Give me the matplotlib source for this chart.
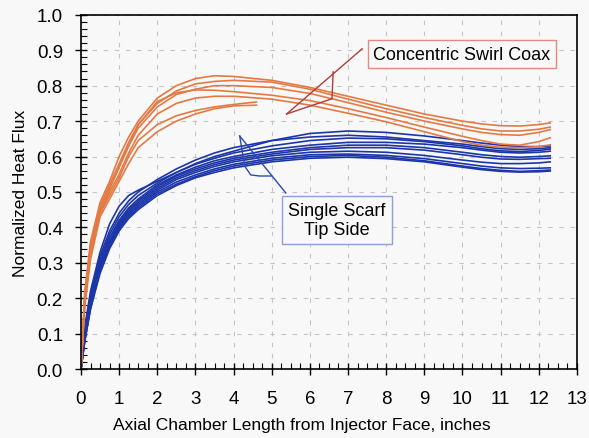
import matplotlib
matplotlib.use('Agg')
import matplotlib.pyplot as plt
from matplotlib.ticker import MultipleLocator, FormatStrFormatter

plt.rcParams['font.family'] = ['Liberation Sans', 'DejaVu Sans']

# axial positions (inches) where curves were read
x = [0, 0.1, 0.25, 0.5, 0.75, 1.0, 1.25, 1.5, 2.0, 2.5, 3.0, 3.5, 4.0,
     5, 6, 7, 8, 9, 10, 10.5, 11, 11.5, 12, 12.3]
x_short = [0, 0.1, 0.25, 0.5, 0.75, 1.0, 1.25, 1.5, 2.0, 2.5, 3.0, 3.5, 4.0, 4.6]

# Concentric swirl coax runs
coax1 = [0, 0.22, 0.36, 0.47, 0.53, 0.60, 0.655, 0.70, 0.765, 0.80, 0.82, 0.828, 0.826,
         0.815, 0.795, 0.77, 0.745, 0.72, 0.70, 0.692, 0.687, 0.686, 0.69, 0.695]
coax2 = [0, 0.21, 0.35, 0.46, 0.52, 0.58, 0.64, 0.69, 0.75, 0.785, 0.805, 0.812, 0.815,
         0.81, 0.79, 0.762, 0.735, 0.71, 0.688, 0.678, 0.672, 0.672, 0.677, 0.683]
coax3 = [0, 0.20, 0.34, 0.45, 0.51, 0.57, 0.63, 0.68, 0.74, 0.775, 0.79, 0.80, 0.80,
         0.795, 0.778, 0.752, 0.725, 0.70, 0.678, 0.668, 0.662, 0.66, 0.668, 0.676]
coax4 = [0, 0.20, 0.33, 0.45, 0.51, 0.57, 0.63, 0.69, 0.755, 0.78, 0.788, 0.787, 0.783,
         0.773, 0.758, 0.735, 0.71, 0.683, 0.657, 0.645, 0.635, 0.632, 0.642, 0.653]
coax5 = [0, 0.19, 0.32, 0.44, 0.50, 0.55, 0.61, 0.66, 0.72, 0.75, 0.765, 0.77, 0.77,
         0.762, 0.745, 0.722, 0.698, 0.67, 0.642, 0.632, 0.626, 0.625, 0.628, 0.633]
coax6 = [0, 0.19, 0.32, 0.44, 0.49, 0.54, 0.60, 0.645, 0.69, 0.715, 0.73, 0.74, 0.747, 0.754]
coax7 = [0, 0.18, 0.31, 0.43, 0.48, 0.53, 0.58, 0.625, 0.67, 0.70, 0.72, 0.735, 0.743, 0.745]

# Single scarf tip side runs
scarf1 = [0, 0.12, 0.22, 0.33, 0.41, 0.46, 0.49, 0.505, 0.53, 0.555, 0.58, 0.60, 0.615,
          0.645, 0.665, 0.672, 0.668, 0.658, 0.645, 0.638, 0.632, 0.628, 0.628, 0.630]
scarf2 = [0, 0.11, 0.21, 0.32, 0.39, 0.44, 0.475, 0.50, 0.535, 0.565, 0.59, 0.61, 0.625,
          0.645, 0.655, 0.66, 0.655, 0.645, 0.635, 0.628, 0.622, 0.62, 0.622, 0.625]
scarf3 = [0, 0.11, 0.21, 0.31, 0.38, 0.43, 0.465, 0.49, 0.525, 0.555, 0.578, 0.595, 0.61,
          0.63, 0.645, 0.652, 0.65, 0.642, 0.63, 0.622, 0.616, 0.614, 0.617, 0.621]
scarf4 = [0, 0.10, 0.20, 0.30, 0.37, 0.42, 0.455, 0.48, 0.52, 0.548, 0.57, 0.588, 0.60,
          0.62, 0.632, 0.64, 0.64, 0.635, 0.625, 0.618, 0.612, 0.61, 0.612, 0.615]
scarf5 = [0, 0.10, 0.20, 0.30, 0.37, 0.415, 0.45, 0.475, 0.515, 0.545, 0.565, 0.582, 0.595,
          0.612, 0.625, 0.632, 0.632, 0.625, 0.612, 0.605, 0.60, 0.598, 0.60, 0.602]
scarf6 = [0, 0.09, 0.19, 0.29, 0.36, 0.41, 0.445, 0.47, 0.51, 0.54, 0.56, 0.577, 0.59,
          0.607, 0.62, 0.625, 0.625, 0.618, 0.605, 0.598, 0.593, 0.592, 0.594, 0.595]
scarf7 = [0, 0.09, 0.19, 0.29, 0.355, 0.405, 0.44, 0.465, 0.505, 0.535, 0.555, 0.572, 0.585,
          0.602, 0.612, 0.615, 0.612, 0.603, 0.59, 0.584, 0.58, 0.58, 0.582, 0.585]
scarf8 = [0, 0.08, 0.18, 0.28, 0.35, 0.40, 0.435, 0.46, 0.50, 0.528, 0.548, 0.565, 0.578,
          0.595, 0.605, 0.607, 0.603, 0.594, 0.58, 0.573, 0.568, 0.566, 0.567, 0.568]
scarf9 = [0, 0.08, 0.17, 0.28, 0.345, 0.395, 0.43, 0.455, 0.495, 0.522, 0.543, 0.56, 0.573,
          0.59, 0.60, 0.603, 0.598, 0.588, 0.573, 0.566, 0.561, 0.558, 0.56, 0.562]
scarf10 = [0, 0.08, 0.17, 0.27, 0.34, 0.39, 0.425, 0.45, 0.49, 0.518, 0.54, 0.555, 0.568,
           0.585, 0.595, 0.598, 0.594, 0.585, 0.57, 0.563, 0.558, 0.556, 0.557, 0.559]

orange = '#e37a44'
blue = '#1c36a8'

fig = plt.figure(figsize=(5.89, 4.39), dpi=100, facecolor='#f8f8f8')
ax = fig.add_axes([0.1375, 0.157, 0.842, 0.807])
ax.set_facecolor('#f8f8f8')

for s in [scarf1, scarf2, scarf3, scarf4, scarf5, scarf6, scarf7, scarf8, scarf9, scarf10]:
    ax.plot(x, s, color=blue, lw=1.2)
for c in [coax1, coax2, coax3, coax4, coax5]:
    ax.plot(x, c, color=orange, lw=1.2)
for c in [coax6, coax7]:
    ax.plot(x_short, c, color=orange, lw=1.2)

# callouts
ax.plot([7.37, 5.39], [0.904, 0.720], color='#b23a3a', lw=1)
ax.plot([6.61, 6.58, 5.8, 5.39], [0.839, 0.763, 0.735, 0.720], color='#b23a3a', lw=1)
ax.text(9.98, 0.889, 'Concentric Swirl Coax', fontsize=13, ha='center', va='center',
        bbox=dict(boxstyle='square,pad=0.3', fc='#f8f8f8', ec='#e08a80', lw=1))

ax.plot([4.16, 5.37], [0.658, 0.497], color='#2a4ab0', lw=1)
ax.plot([4.16, 4.29, 4.45, 4.68, 5.0], [0.658, 0.573, 0.548, 0.545, 0.545], color='#2a4ab0', lw=1)
ax.text(6.71, 0.421, 'Single Scarf\nTip Side', fontsize=13, ha='center', va='center',
        linespacing=1.15,
        bbox=dict(boxstyle='square,pad=0.35', fc='#f8f8f8', ec='#8fa0d8', lw=1))

ax.set_xlim(0, 13)
ax.set_ylim(0, 1.0)
ax.xaxis.set_major_locator(MultipleLocator(1))
ax.xaxis.set_minor_locator(MultipleLocator(0.25))
ax.yaxis.set_major_locator(MultipleLocator(0.1))
ax.yaxis.set_minor_locator(MultipleLocator(0.02))
ax.yaxis.set_major_formatter(FormatStrFormatter('%.1f'))
ax.tick_params(which='major', direction='inout', length=8, width=1, labelsize=13.5)
ax.tick_params(which='minor', direction='in', length=4, width=0.8)
ax.tick_params(axis='y', which='major', pad=9)
ax.tick_params(axis='x', which='major', pad=11)
ax.grid(True, which='major', color='#c4c4c4', ls=(0, (4, 6)), lw=0.8)
for sp in ax.spines.values():
    sp.set_linewidth(1.2)

ax.set_xlabel('Axial Chamber Length from Injector Face, inches', fontsize=12.5, labelpad=7)
ax.xaxis.set_label_coords(0.445, -0.135)
ax.set_ylabel('Normalized Heat Flux', fontsize=12.5, labelpad=6)

fig.savefig('out.png', dpi=100, facecolor=fig.get_facecolor())
